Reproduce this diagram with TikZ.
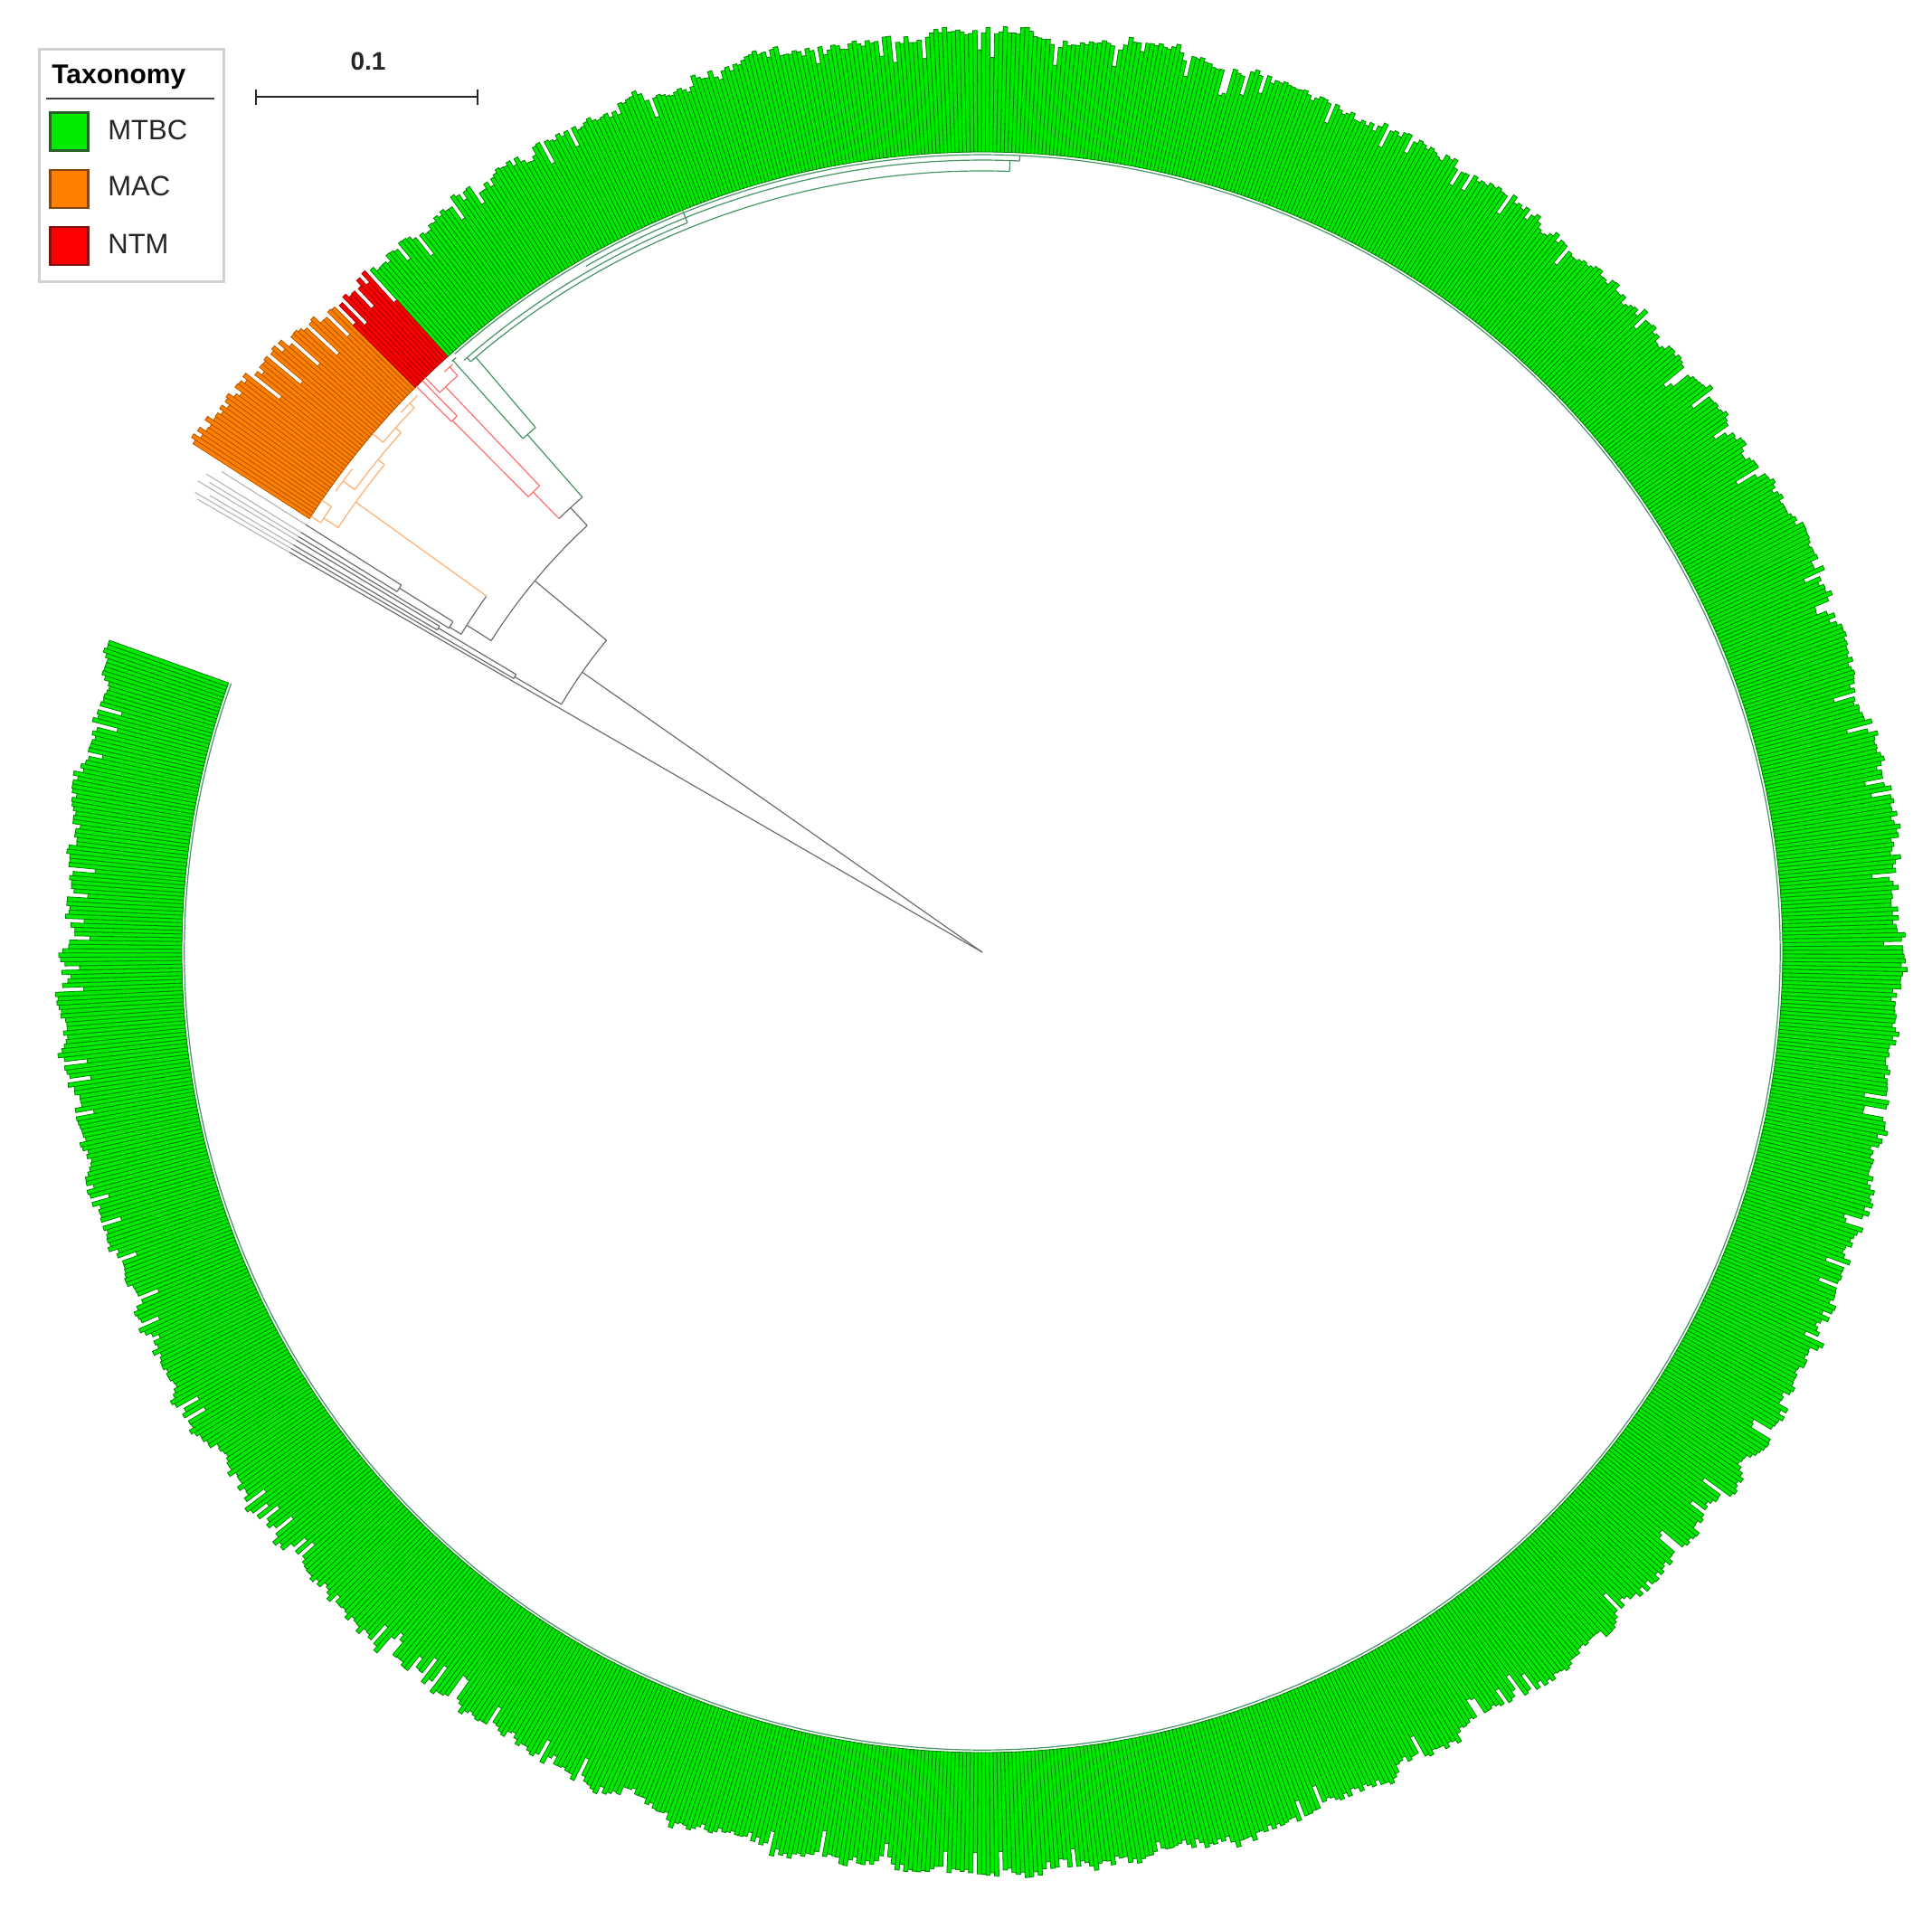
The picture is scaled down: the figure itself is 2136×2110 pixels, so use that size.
\documentclass[tikz,border=0pt]{standalone}
\usepackage{fontspec}
\setmainfont{Liberation Sans}
\definecolor{mtbc}{RGB}{0,235,0}
\definecolor{mtbcline}{RGB}{0,130,0}
\definecolor{mac}{RGB}{255,128,0}
\definecolor{macline}{RGB}{180,85,0}
\definecolor{ntm}{RGB}{255,0,0}
\definecolor{ntmline}{RGB}{165,0,0}
\definecolor{treegrey}{RGB}{110,110,110}
\definecolor{tipgrey}{RGB}{185,185,185}
\definecolor{brgreen}{RGB}{70,150,100}
\definecolor{brred}{RGB}{255,110,110}
\definecolor{brorange}{RGB}{255,175,110}
\newcommand\tbArc[4][]{\draw[#1] (#3:#2) arc[start angle=#3, end angle=#4, radius=#2];}
\newcommand\tbRad[4][]{\draw[#1] (#2:#3) -- (#2:#4);}
\begin{document}
\begin{tikzpicture}[x=0.5pt,y=0.5pt,
  backbone/.style={draw=treegrey,line width=0.6pt},
  gbr/.style={draw=brgreen,line width=0.6pt},
  rbr/.style={draw=brred,line width=0.6pt},
  obr/.style={draw=brorange,line width=0.6pt},
  tipx/.style={draw=tipgrey,line width=0.6pt},
  gbar/.style={fill=mtbc,draw=mtbcline,line width=0.4pt},
  obar/.style={fill=mac,draw=macline,line width=0.4pt},
  rbar/.style={fill=ntm,draw=ntmline,line width=0.4pt},
  swatch/.style={minimum size=21pt,inner sep=0pt,outer sep=0pt,line width=1.2pt},
  legtext/.style={anchor=base west,inner sep=0pt,font=\fontsize{15.5}{18}\selectfont,text=black!85}]
\useasboundingbox (-1086,-1057) rectangle (1050,1053);
\fill[white] (-1086,-1057) rectangle (1050,1053);

% ---------- bars ----------
\pgfmathsetseed{4242}
\xdef\Lprev{126}
\foreach \i in {0,...,1227}{
  \pgfmathsetmacro\ang{131.9-0.135-0.27*\i}
  \pgfmathsetmacro\Lb{0.75*\Lprev+0.25*(106+40*rnd)}
  \xdef\Lprev{\Lb}
  \pgfmathsetmacro\ro{885+\Lb+8*rnd-22*(rnd<0.08)}
  \filldraw[gbar] (\ang-0.135:885) -- (\ang-0.135:\ro) -- (\ang+0.135:\ro) -- (\ang+0.135:885) -- cycle;
}
\foreach \i in {0,...,44}{
  \pgfmathsetmacro\ang{135.1+0.1345+0.2689*\i}
  \pgfmathsetmacro\ro{885+122+0.6*\i+14*rnd-40*(rnd<0.18)}
  \filldraw[obar] (\ang-0.1345:885) -- (\ang-0.1345:\ro) -- (\ang+0.1345:\ro) -- (\ang+0.1345:885) -- cycle;
}
\foreach \i in {0,...,11}{
  \pgfmathsetmacro\ang{131.9+0.1333+0.2667*\i}
  \pgfmathsetmacro\ro{885+112+20*rnd-30*(rnd<0.25)}
  \filldraw[rbar] (\ang-0.1333:885) -- (\ang-0.1333:\ro) -- (\ang+0.1333:\ro) -- (\ang+0.1333:885) -- cycle;
}

% ---------- tree backbone ----------
\coordinate (root) at (0,0);
\draw[backbone] (root) -- (145:540);
\draw[backbone] (root) -- (150.0:885);
\tbRad[tipx]{150.0}{885}{1002}
% N1
\tbArc[backbone]{540}{140.3}{149.5}
\tbRad[backbone]{140.3}{540}{643}
\tbRad[backbone]{149.5}{540}{600}
\tbArc[backbone]{600}{149.2}{149.7}
\tbRad[backbone]{149.7}{600}{885}
\tbRad[tipx]{149.7}{885}{1008}
\tbRad[backbone]{149.2}{600}{700}
\tbArc[backbone]{700}{149.0}{149.4}
\tbRad[backbone]{149.4}{700}{885}
\tbRad[tipx]{149.4}{885}{992}
\tbRad[backbone]{149.0}{700}{885}
\tbRad[tipx]{149.0}{885}{1012}
% N2
\tbArc[backbone]{643}{132.8}{147.6}
\tbRad[backbone]{147.6}{643}{675}
\tbArc[backbone]{675}{144.3}{148.6}
\tbRad[backbone]{148.6}{675}{690}
\tbArc[backbone]{690}{148.0}{148.7}
\tbRad[backbone]{148.7}{690}{885}
\tbRad[tipx]{148.7}{885}{1000}
\tbRad[backbone]{148.0}{690}{760}
\tbArc[backbone]{760}{147.7}{148.35}
\tbRad[backbone]{147.7}{760}{885}
\tbRad[tipx]{147.7}{885}{995}
\tbRad[backbone]{148.35}{760}{885}
\tbRad[tipx]{148.35}{885}{1008}
% N4
\tbRad[backbone]{132.8}{643}{670}
\tbArc[backbone]{670}{131.3}{134.3}

% ---------- MAC clade ----------
\tbRad[obr]{144.3}{675}{853}
\tbArc[obr]{853}{140.8}{146.6}
\tbRad[obr]{146.6}{853}{872}
\tbArc[obr]{872}{145.6}{147.0}
\tbRad[obr]{147.0}{872}{885}
\tbRad[obr]{145.6}{872}{885}
\tbRad[obr]{140.8}{853}{862}
\tbArc[obr]{862}{138.2}{143.6}
\tbRad[obr]{143.6}{862}{878}
\tbArc[obr]{878}{142.5}{144.5}
\tbRad[obr]{138.2}{862}{870}
\tbArc[obr]{870}{136.2}{139.6}
\tbRad[obr]{139.6}{870}{885}
\tbRad[obr]{136.2}{870}{877}
\tbArc[obr]{877}{135.4}{137.1}

% ---------- NTM clade ----------
\tbRad[rbr]{134.3}{670}{711}
\tbArc[rbr]{711}{133.5}{134.9}
\tbRad[rbr]{134.9}{711}{830}
\tbArc[rbr]{830}{134.4}{135.0}
\tbRad[rbr]{134.4}{830}{885}
\tbRad[rbr]{135.0}{830}{885}
\tbRad[rbr]{133.5}{711}{862}
\tbArc[rbr]{862}{132.3}{134.1}
\tbRad[rbr]{134.1}{862}{885}
\tbRad[rbr]{132.3}{862}{875}
\tbArc[rbr]{875}{132.0}{132.8}

% ---------- MTBC clade ----------
\tbRad[gbr]{131.3}{670}{762}
\tbArc[gbr]{762}{130.4}{131.8}
\tbRad[gbr]{131.8}{762}{878}
\tbArc[gbr]{878}{131.5}{131.9}
\tbRad[gbr]{130.4}{762}{864}
\tbArc[gbr]{864}{88}{130.9}
\tbRad[gbr]{130.9}{864}{870}
\tbArc[gbr]{870}{112}{131.2}
\tbRad[gbr]{112}{870}{884}
\tbRad[gbr]{88}{864}{876}
\tbArc[gbr]{876}{87.3}{120}
\tbRad[gbr]{87.3}{876}{882}
\tbArc[gbr]{882}{-199.7}{131.4}

% ---------- legend and scale bar ----------
\begin{scope}[shift={(-1086,1053)},yscale=-1]
  \draw[draw=black!18,line width=1.5pt,fill=white] (44,55) rectangle (248,312);
  \node[anchor=base west,inner sep=0pt,font=\bfseries\fontsize{15}{18}\selectfont] (title) at (57,93) {Taxonomy};
  \draw[black!75,line width=1pt] (51,109) -- (237,109);
  \node[swatch,fill=mtbc,draw={rgb,255:red,40;green,95;blue,40}] (swA) at (76.5,145.5) {};
  \node[swatch,fill=mac,draw={rgb,255:red,130;green,70;blue,20}] (swB) at (76.5,209) {};
  \node[swatch,fill=ntm,draw={rgb,255:red,120;green,20;blue,20}] (swC) at (76.5,272) {};
  \node[legtext] (labA) at (119,155) {MTBC};
  \node[legtext] (labB) at (119,217) {MAC};
  \node[legtext] (labC) at (119,281) {NTM};
  \coordinate (sbL) at (283,107);
  \coordinate (sbR) at (528,107);
  \draw[black!85,line width=1.3pt] (sbL) -- (sbR);
  \draw[black!85,line width=1.3pt] (283,99) -- (283,116);
  \draw[black!85,line width=1.3pt] (528,99) -- (528,116);
  \node[anchor=base,inner sep=0pt,font=\bfseries\fontsize{14}{17}\selectfont,text=black!85] (sbT) at (407,78) {0.1};
\end{scope}
\end{tikzpicture}
\end{document}
